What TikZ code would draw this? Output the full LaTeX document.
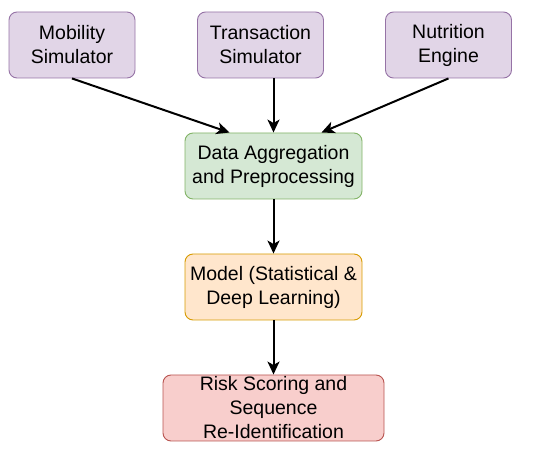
\documentclass[tikz,border=0pt]{standalone}
\usepackage{fontspec}
\setmainfont{Liberation Sans}
\usetikzlibrary{arrows.meta}
\definecolor{pfill}{HTML}{E1D5E7}\definecolor{pdraw}{HTML}{9673A6}
\definecolor{gfill}{HTML}{D5E8D4}\definecolor{gdraw}{HTML}{82B366}
\definecolor{ofill}{HTML}{FFE6CC}\definecolor{odraw}{HTML}{D79B00}
\definecolor{rfill}{HTML}{F8CECC}\definecolor{rdraw}{HTML}{B85450}
\begin{document}
\begin{tikzpicture}[x=1pt,y=-1pt,
  box/.style={rounded corners=8pt,line width=0.9pt,align=center,inner sep=0pt,
    minimum height=66pt,font=\fontsize{19.5}{24}\selectfont},
  src/.style={box,fill=pfill,draw=pdraw,minimum width=126pt},
  arr/.style={line width=2pt,-{Stealth[length=13pt,width=12pt,inset=3.5pt]}}]
\useasboundingbox (0,0) rectangle (550,454);
\node[src] (mob) at (72,45) {Mobility\\Simulator};
\node[src] (tra) at (260.5,45) {Transaction\\Simulator};
\node[src] (nut) at (448.5,45) {Nutrition\\Engine};
\node[box,fill=gfill,draw=gdraw,minimum width=177pt] (dat) at (273.5,166) {Data Aggregation\\and Preprocessing};
\node[box,fill=ofill,draw=odraw,minimum width=177pt] (mod) at (273.5,287) {Model (Statistical \&\\Deep Learning)};
\node[box,fill=rfill,draw=rdraw,minimum width=221pt] (ris) at (273.5,408) {Risk Scoring and\\Sequence\\Re-Identification};
\draw[arr] (mob.south) -- ([xshift=-44pt]dat.north);
\draw[arr] ([xshift=13pt]tra.south) -- (dat.north);
\draw[arr] (nut.south) -- ([xshift=48pt]dat.north);
\draw[arr] (dat) -- (mod);
\draw[arr] (mod) -- (ris);
\end{tikzpicture}
\end{document}
